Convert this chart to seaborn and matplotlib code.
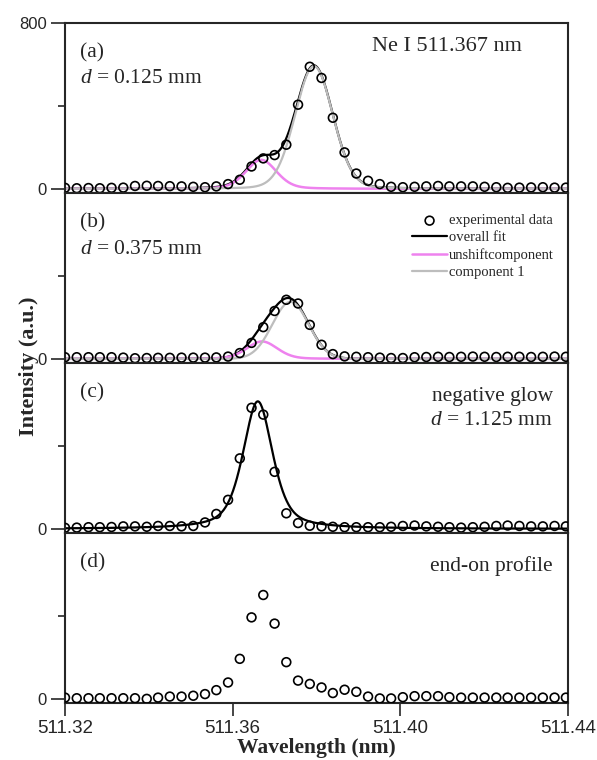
import numpy as np
import matplotlib
matplotlib.use('Agg')
import matplotlib.pyplot as plt
import seaborn as sns

# wavelength grid of the measured points (nm)
wavelength = [511.3200, 511.3228, 511.3256, 511.3283, 511.3311, 511.3339, 511.3367, 511.3395,
              511.3422, 511.3450, 511.3478, 511.3506, 511.3534, 511.3561, 511.3589, 511.3617,
              511.3645, 511.3673, 511.3700, 511.3728, 511.3756, 511.3784, 511.3812, 511.3839,
              511.3867, 511.3895, 511.3923, 511.3951, 511.3978, 511.4006, 511.4034, 511.4062,
              511.4090, 511.4117, 511.4145, 511.4173, 511.4201, 511.4229, 511.4256, 511.4284,
              511.4312, 511.4340, 511.4368, 511.4395]

# experimental data, one list per panel
int_a = [5, 3, 4, 3, 5, 6, 14, 15, 14, 13, 12, 10, 8, 12, 23, 44, 108, 147, 163, 213, 406, 589,
         535, 343, 176, 74, 39, 23, 10, 8, 10, 12, 14, 12, 12, 12, 10, 8, 5, 6, 7, 8, 6, 6]
int_b = [8, 8, 8, 8, 8, 6, 3, 4, 5, 5, 6, 6, 6, 7, 11, 28, 77, 153, 231, 285, 267, 164,
         68, 23, 12, 10, 8, 6, 4, 4, 8, 9, 10, 9, 10, 11, 10, 9, 10, 10, 9, 10, 11, 10]
int_c = [5, 6, 8, 8, 9, 12, 12, 10, 14, 14, 12, 14, 31, 72, 140, 340, 584, 551, 275, 75, 28, 15,
         12, 10, 8, 8, 8, 8, 10, 14, 16, 12, 10, 8, 6, 8, 10, 14, 16, 14, 12, 12, 14, 12]
int_d = [6, 3, 3, 3, 3, 3, 3, 0, 6, 11, 11, 15, 23, 42, 79, 193, 393, 501, 363, 177, 88, 72,
         55, 28, 44, 34, 11, 2, 2, 8, 13, 13, 13, 8, 6, 6, 6, 6, 6, 6, 6, 6, 6, 6]

# fitted profile parameters: amplitude, centre (nm), FWHM (nm), lorentz fraction
unshift_a = [140, 511.3668, 0.0086, 0.25]
comp1_a = [592, 511.3794, 0.0106, 0.1]
unshift_b = [84, 511.3670, 0.0086, 0.2]
comp1_b = [275, 511.3738, 0.0102, 0.0]
fit_c = [615, 511.3660, 0.0084, 0.55]

panel_tags = ['(a)', '(b)', '(c)', '(d)']
xticks = [511.32, 511.36, 511.40, 511.44]


def pvoigt(x, p):
    amp, x0, w, eta = p
    u = (x - x0) / w
    return amp * (eta / (1 + 4 * u ** 2) + (1 - eta) * np.exp(-4 * np.log(2) * u ** 2))


sns.set_style('ticks')
plt.rcParams['font.family'] = ['Liberation Sans', 'DejaVu Sans']
plt.rcParams['mathtext.fontset'] = 'custom'
plt.rcParams['mathtext.it'] = 'Liberation Serif:italic'
plt.rcParams['mathtext.rm'] = 'Liberation Serif'

serif = 'Liberation Serif'
violet = '#ee82ee'
grey = '#bdbdbd'

fig, axes = plt.subplots(4, 1, figsize=(5.97, 7.6), dpi=100, sharex=True,
                         gridspec_kw=dict(hspace=0))
fig.subplots_adjust(left=0.1089, right=0.9514, top=0.9697, bottom=0.075)

grid = np.linspace(511.32, 511.44, 800)
data = [int_a, int_b, int_c, int_d]

for i, ax in enumerate(axes):
    if i == 0:
        sns.lineplot(x=grid, y=pvoigt(grid, unshift_a) + pvoigt(grid, comp1_a), ax=ax,
                     color='black', lw=1.6, label='overall fit')
        sns.lineplot(x=grid, y=pvoigt(grid, unshift_a), ax=ax, color=violet, lw=1.8,
                     label='unshiftcomponent')
        sns.lineplot(x=grid, y=pvoigt(grid, comp1_a), ax=ax, color=grey, lw=1.6,
                     label='component 1')
    elif i == 1:
        sns.lineplot(x=grid, y=pvoigt(grid, unshift_b) + pvoigt(grid, comp1_b), ax=ax,
                     color='black', lw=1.6, label='overall fit')
        sns.lineplot(x=grid, y=pvoigt(grid, unshift_b), ax=ax, color=violet, lw=1.8,
                     label='unshiftcomponent')
        sns.lineplot(x=grid, y=pvoigt(grid, comp1_b), ax=ax, color=grey, lw=1.6,
                     label='component 1')
    elif i == 2:
        sns.lineplot(x=grid, y=pvoigt(grid, fit_c), ax=ax, color='black', lw=1.6)

    sns.scatterplot(x=wavelength, y=data[i], ax=ax, marker='o', s=40, facecolor='none',
                    edgecolor='black', linewidth=1.2, zorder=3, label='experimental data')

    ax.set_xlim(511.32, 511.44)
    ax.set_ylim(-20, 800)
    if i == 0:
        ax.set_yticks([0, 800])
        ax.set_yticklabels(['0', '800'])
    else:
        ax.set_yticks([0])
        ax.set_yticklabels(['0'])
    ax.set_yticks([400], minor=True)
    ax.set_xticks(xticks)
    ax.set_xticklabels(['511.32', '511.36', '511.40', '511.44'])
    ax.tick_params(axis='y', which='major', length=10, width=1.2, labelsize=12, pad=3)
    ax.tick_params(axis='y', which='minor', length=5, width=1.2)
    ax.tick_params(axis='x', which='major', length=9, width=1.2, labelsize=13.5, pad=3.5)
    ax.tick_params(axis='x', labelbottom=(i == 3))
    for sp in ax.spines.values():
        sp.set_linewidth(1.5)
        sp.set_visible(True)
    ax.set_xlabel('')
    ax.set_ylabel('')
    if ax.get_legend() is not None:
        ax.get_legend().remove()

    ax.text(0.03, 0.825, panel_tags[i], transform=ax.transAxes, family=serif,
            fontsize=15.5, va='center', ha='left')

axes[0].text(0.03, 0.675, r'$d$ = 0.125 mm', transform=axes[0].transAxes, family=serif,
             fontsize=15.5, va='center')
axes[0].text(0.909, 0.862, 'Ne I 511.367 nm', transform=axes[0].transAxes, family=serif,
             fontsize=16, va='center', ha='right')
axes[1].text(0.03, 0.67, r'$d$ = 0.375 mm', transform=axes[1].transAxes, family=serif,
             fontsize=15.5, va='center')
axes[2].text(0.97, 0.805, 'negative glow', transform=axes[2].transAxes, family=serif,
             fontsize=15.5, va='center', ha='right')
axes[2].text(0.97, 0.66, r'$d$ = 1.125 mm', transform=axes[2].transAxes, family=serif,
             fontsize=15.5, va='center', ha='right')
axes[3].text(0.97, 0.805, 'end-on profile', transform=axes[3].transAxes, family=serif,
             fontsize=15.5, va='center', ha='right')

# legend in panel (b)
handles, labels = axes[1].get_legend_handles_labels()
order = ['experimental data', 'overall fit', 'unshiftcomponent', 'component 1']
hmap = dict(zip(labels, handles))
axes[1].legend([hmap[k] for k in order], order, loc='upper left', bbox_to_anchor=(0.69, 0.875),
               frameon=False, prop={'family': serif, 'size': 10.5}, handlelength=2.4,
               handletextpad=0.1, labelspacing=0.25, borderaxespad=0, borderpad=0,
               scatterpoints=1)

fig.text(29 / 597, 1 - 366 / 760, 'Intensity (a.u.)', rotation=90, ha='center', va='center',
         family=serif, fontweight='bold', fontsize=16)
axes[3].set_xlabel('Wavelength (nm)', family=serif, fontweight='bold', fontsize=15.5,
                   va='baseline')
axes[3].xaxis.set_label_coords(0.5, -0.295)

fig.savefig('out.png', dpi=100)
